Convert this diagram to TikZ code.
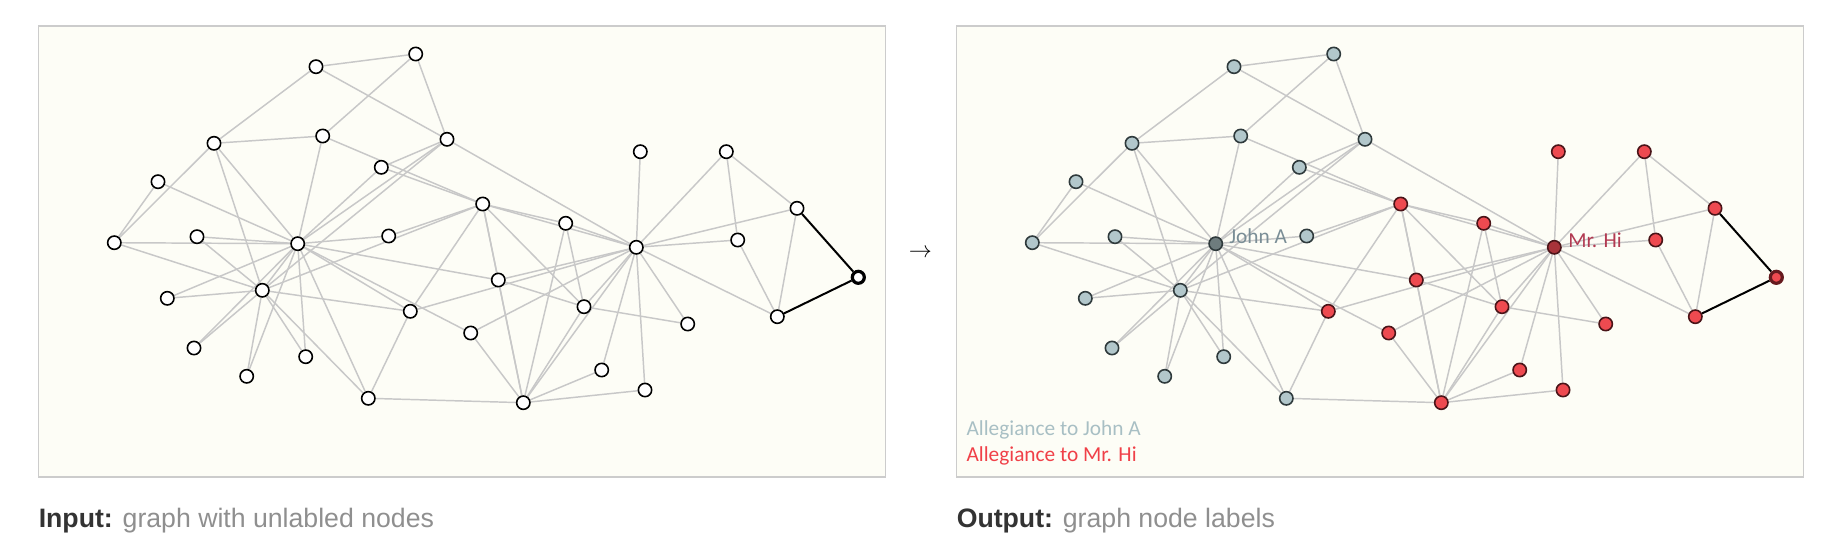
\documentclass[tikz,border=0pt]{standalone}
\usepackage{fontspec}
\setmainfont{Liberation Sans}
\newfontfamily\legfont{Carlito}
\usetikzlibrary{backgrounds}
\definecolor{bgcol}{HTML}{FDFDF6}
\definecolor{framecol}{HTML}{CCCCCC}
\definecolor{edgecol}{HTML}{C8C8C8}
\definecolor{jfill}{HTML}{B2C7CB}
\definecolor{jline}{HTML}{2F3A3C}
\definecolor{jhubfill}{HTML}{6E7C7E}
\definecolor{hfill}{HTML}{EE4A50}
\definecolor{hline}{HTML}{4A1418}
\definecolor{hhubfill}{HTML}{A8333A}
\definecolor{hboldline}{HTML}{651A1E}
\definecolor{jtext}{HTML}{7A8E96}
\definecolor{htext}{HTML}{B23A52}
\definecolor{jleg}{HTML}{A8BFC4}
\definecolor{hleg}{HTML}{F04048}
\definecolor{capdark}{HTML}{333333}
\definecolor{capgrey}{HTML}{8F8F8F}
\tikzset{every picture/.style={x=0.75pt,y=-0.75pt}}
\tikzset{panel/.style={draw=framecol,fill=bgcol,line width=1pt}}
\tikzset{ivert/.style={circle,draw=black,fill=white,inner sep=0pt,minimum size=10pt,line width=1.2pt}}
\tikzset{ibold/.style={ivert,line width=2.4pt,minimum size=9pt}}
\tikzset{jvert/.style={ivert,draw=jline,fill=jfill}}
\tikzset{hvert/.style={ivert,draw=hline,fill=hfill}}
\tikzset{jhub/.style={ivert,draw=jline,fill=jhubfill}}
\tikzset{hhub/.style={ivert,draw=hline,fill=hhubfill}}
\tikzset{hbold/.style={ibold,draw=hboldline,fill=hfill}}
\tikzset{edge/.style={draw=edgecol,line width=1.1pt}}
\tikzset{hot/.style={draw=black,line width=1.5pt}}
\tikzset{capt/.style={anchor=base west,inner sep=0pt,text=capgrey,font=\fontsize{20}{24}\selectfont}}
\tikzset{legend/.style={anchor=base west,inner sep=0pt,font=\legfont\fontsize{16}{19}\selectfont}}
% member / x / y / input style / output style
\def\karatenodes{1/636.3/247.3/ivert/hhub, 2/523.3/402.7/ivert/hvert,
  3/482.7/204/ivert/hvert, 4/584/306.7/ivert/hvert, 5/726.3/151.7/ivert/hvert,
  6/777.3/316.7/ivert/hvert, 7/797/208.3/ivert/hvert, 8/565.7/223.3/ivert/hvert,
  9/410.3/311.3/ivert/hvert, 10/388.7/236/ivert/jvert, 11/737.7/240/ivert/hvert,
  12/640.3/151.7/ivert/hvert, 13/687.7/324/ivert/hvert, 14/498.3/280/ivert/hvert,
  15/197/236.7/ivert/jvert, 16/167.3/298.3/ivert/jvert, 17/858.3/277.3/ibold/hbold,
  18/601.7/370/ivert/hvert, 19/194/348/ivert/jvert, 20/470.7/333/ivert/hvert,
  21/246.7/376.3/ivert/jvert, 22/645/390/ivert/hvert, 23/305.7/356.7/ivert/jvert,
  24/214/143.3/ivert/jvert, 25/415.7/54/ivert/jvert, 26/316/66.7/ivert/jvert,
  27/158/181.7/ivert/jvert, 28/322.7/136/ivert/jvert, 29/381.3/167.3/ivert/jvert,
  30/114.3/242.7/ivert/jvert, 31/368.3/398.3/ivert/jvert, 32/447/139.3/ivert/jvert,
  33/262.3/290.3/ivert/jvert, 34/297.7/243.7/ivert/jhub}
\def\karateedges{1/2,1/3,1/4,1/5,1/6,1/7,1/8,1/9,1/11,1/12,1/13,1/14,1/18,1/20,1/22,1/32,
  2/3,2/4,2/8,2/14,2/18,2/20,2/22,2/31,
  3/4,3/8,3/9,3/10,3/14,3/28,3/29,3/33,
  4/8,4/13,4/14,5/7,5/11,6/7,6/11,
  9/31,9/33,9/34,10/34,14/34,15/33,15/34,16/33,16/34,19/33,19/34,20/34,
  21/33,21/34,23/33,23/34,24/26,24/28,24/30,24/33,24/34,
  25/26,25/28,25/32,26/32,27/30,27/34,28/34,29/32,29/34,
  30/33,30/34,31/33,31/34,32/33,32/34,33/34}
\begin{document}
\begin{tikzpicture}
\useasboundingbox (0,0) rectangle (1837,553);
\begin{pgfonlayer}{background}
\draw [panel] (38.5,26) rectangle (885.7,477);
\draw [panel] (956.5,26) rectangle (1803.7,477);
\end{pgfonlayer}

% input graph (a) and labelled output graph (b)
\foreach \i/\x/\y/\a/\b in \karatenodes {
  \node [\a] (a\i) at (\x,\y) {};
  \node [\b] (b\i) at (\x+918,\y) {};
}
\begin{pgfonlayer}{background}
\foreach \u/\v in \karateedges {
  \draw [edge] (a\u) -- (a\v);
  \draw [edge] (b\u) -- (b\v);
}
\draw [hot] (a6) -- (a17) -- (a7);
\draw [hot] (b6) -- (b17) -- (b7);
\end{pgfonlayer}

\node [legend,text=jtext] (jname) at (1229,243.3) {John A};
\node [legend,text=htext] (hname) at (1568,247.7) {Mr. Hi};

\node [legend,text=jleg] (jleg) at (966.3,435) {Allegiance to John A};
\node [legend,text=hleg] (hleg) at (966.3,461.7) {Allegiance to Mr. Hi};

\node [font=\fontsize{16}{18}\selectfont,inner sep=0pt] (arrow) at (920.5,253) {$\rightarrow$};

\node [capt] (incap) at (38.5,527) {\textcolor{capdark}{\bfseries Input:} graph with unlabled nodes};
\node [capt] (outcap) at (956.5,527) {\textcolor{capdark}{\bfseries Output:} graph node labels};
\end{tikzpicture}
\end{document}
